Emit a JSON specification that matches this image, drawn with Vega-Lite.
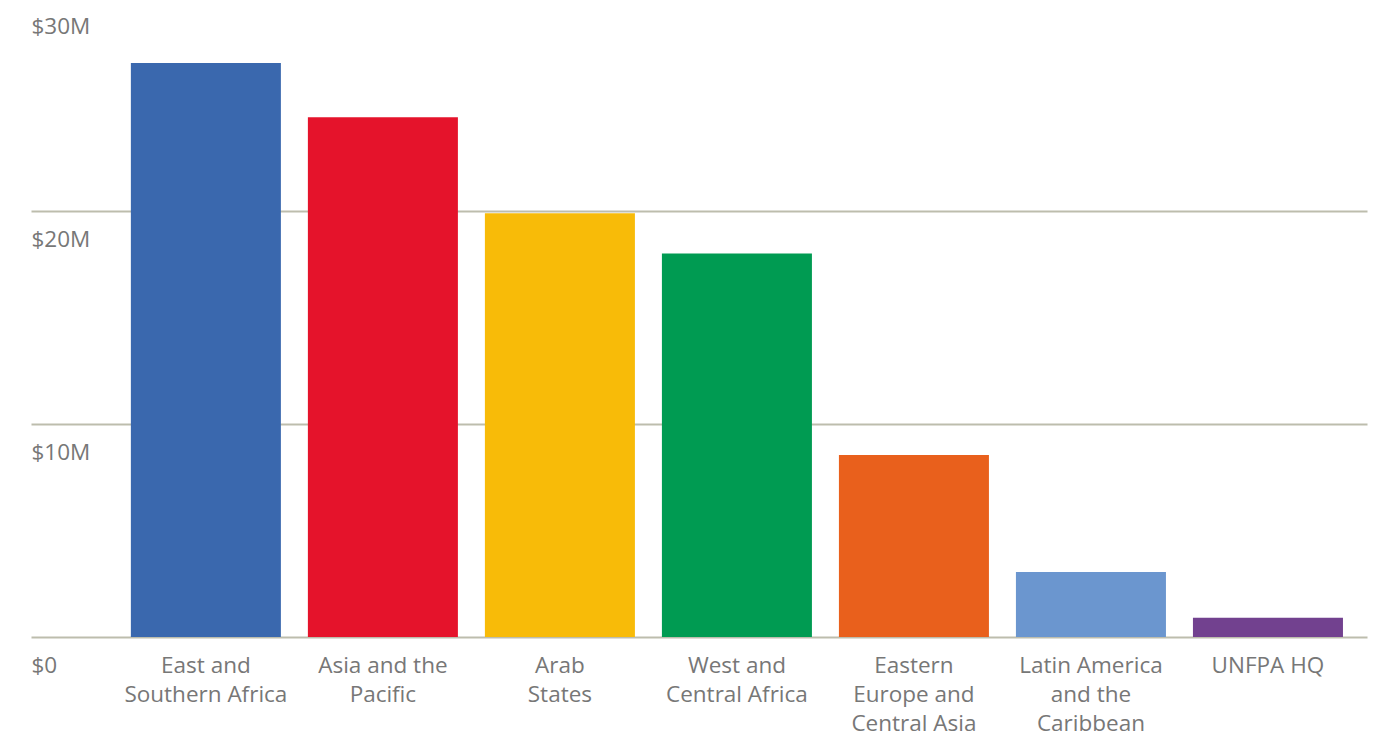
{
  "$schema": "https://vega.github.io/schema/vega-lite/v6.json",
  "width": 1336,
  "height": 639,
  "autosize": {"type": "none"},
  "padding": {"left": 31, "top": -2, "right": 16, "bottom": 98},
  "background": "white",
  "config": {"view": {"stroke": null}, "font": "Open Sans"},
  "data": {
    "values": [
      {"region": "East and Southern Africa", "funding": 26.95},
      {"region": "Asia and the Pacific", "funding": 24.4},
      {"region": "Arab States", "funding": 19.9},
      {"region": "West and Central Africa", "funding": 18.0},
      {"region": "Eastern Europe and Central Asia", "funding": 8.55},
      {"region": "Latin America and the Caribbean", "funding": 3.05},
      {"region": "UNFPA HQ", "funding": 0.9}
    ]
  },
  "mark": {"type": "bar"},
  "encoding": {
    "x": {
      "field": "region",
      "type": "nominal",
      "sort": null,
      "scale": {"paddingInner": 0.1525, "paddingOuter": 0.35, "align": 0.806},
      "axis": {
        "title": null,
        "domain": false,
        "ticks": false,
        "labelAngle": 0,
        "labelFontSize": 22.5,
        "labelColor": "#777777",
        "labelBaseline": "top",
        "labelPadding": 17,
        "labelLineHeight": 29,
        "labelLimit": 400,
        "labelExpr": "datum.value == 'East and Southern Africa' ? ['East and', 'Southern Africa'] : datum.value == 'Asia and the Pacific' ? ['Asia and the', 'Pacific'] : datum.value == 'Arab States' ? ['Arab', 'States'] : datum.value == 'West and Central Africa' ? ['West and', 'Central Africa'] : datum.value == 'Eastern Europe and Central Asia' ? ['Eastern', 'Europe and', 'Central Asia'] : datum.value == 'Latin America and the Caribbean' ? ['Latin America', 'and the', 'Caribbean'] : datum.value"
      }
    },
    "y": {
      "field": "funding",
      "type": "quantitative",
      "scale": {"domain": [0, 30], "nice": false},
      "axis": {
        "title": null,
        "domain": false,
        "ticks": false,
        "tickSize": 0,
        "values": [0, 10, 20, 30],
        "grid": true,
        "gridColor": "#bdbdad",
        "gridWidth": 2,
        "labelAlign": "left",
        "labelBaseline": "middle",
        "labelPadding": 0,
        "labelOffset": 28,
        "labelFlush": false,
        "labelFontSize": 22.5,
        "labelColor": "#777777",
        "labelExpr": "datum.value == 0 ? '$0' : '$' + datum.value + 'M'"
      }
    },
    "color": {
      "field": "region",
      "type": "nominal",
      "sort": null,
      "legend": null,
      "scale": {
        "domain": ["East and Southern Africa", "Asia and the Pacific", "Arab States", "West and Central Africa", "Eastern Europe and Central Asia", "Latin America and the Caribbean", "UNFPA HQ"],
        "range": ["#3a68ae", "#e5132b", "#f8bb08", "#009b52", "#e9601c", "#6b96cf", "#72418f"]
      }
    }
  }
}
